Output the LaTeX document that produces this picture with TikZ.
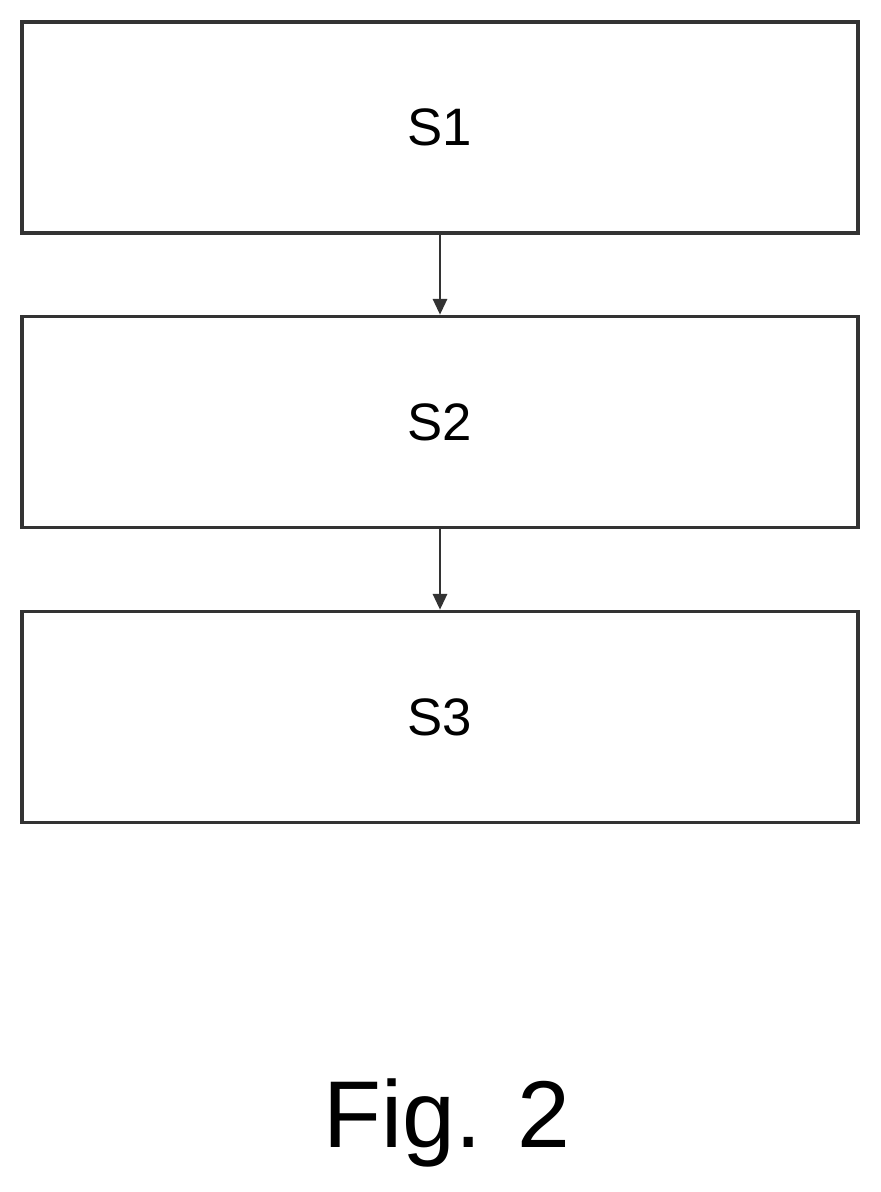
\documentclass[tikz,border=0pt]{standalone}
\usepackage{fontspec}
\setmainfont{Liberation Sans}
\usetikzlibrary{arrows.meta}

\begin{document}
\begin{tikzpicture}
        \useasboundingbox (0,0) rectangle (17.6,23.84);
        \tikzset{stepbox/.style={draw=black!80, line width=2pt, minimum width=16.72cm, minimum height=4.22cm, inner sep=0pt, font=\fontsize{30}{34}\selectfont}}

        \node[stepbox] (S1) at (8.8,21.29) {S1};
        \node[stepbox] (S2) at (8.8,15.40) {S2};
        \node[stepbox] (S3) at (8.8,9.50) {S3};

        \draw[black!80, line width=1.6pt, -{Triangle[length=9pt,width=8pt]}] (S1) -- (S2);
        \draw[black!80, line width=1.6pt, -{Triangle[length=9pt,width=8pt]}] (S2) -- (S3);

        \node[font=\fontsize{54}{60}\selectfont] (fig) at (8.94,1.38) {Fig. 2};
    \end{tikzpicture}
\end{document}
